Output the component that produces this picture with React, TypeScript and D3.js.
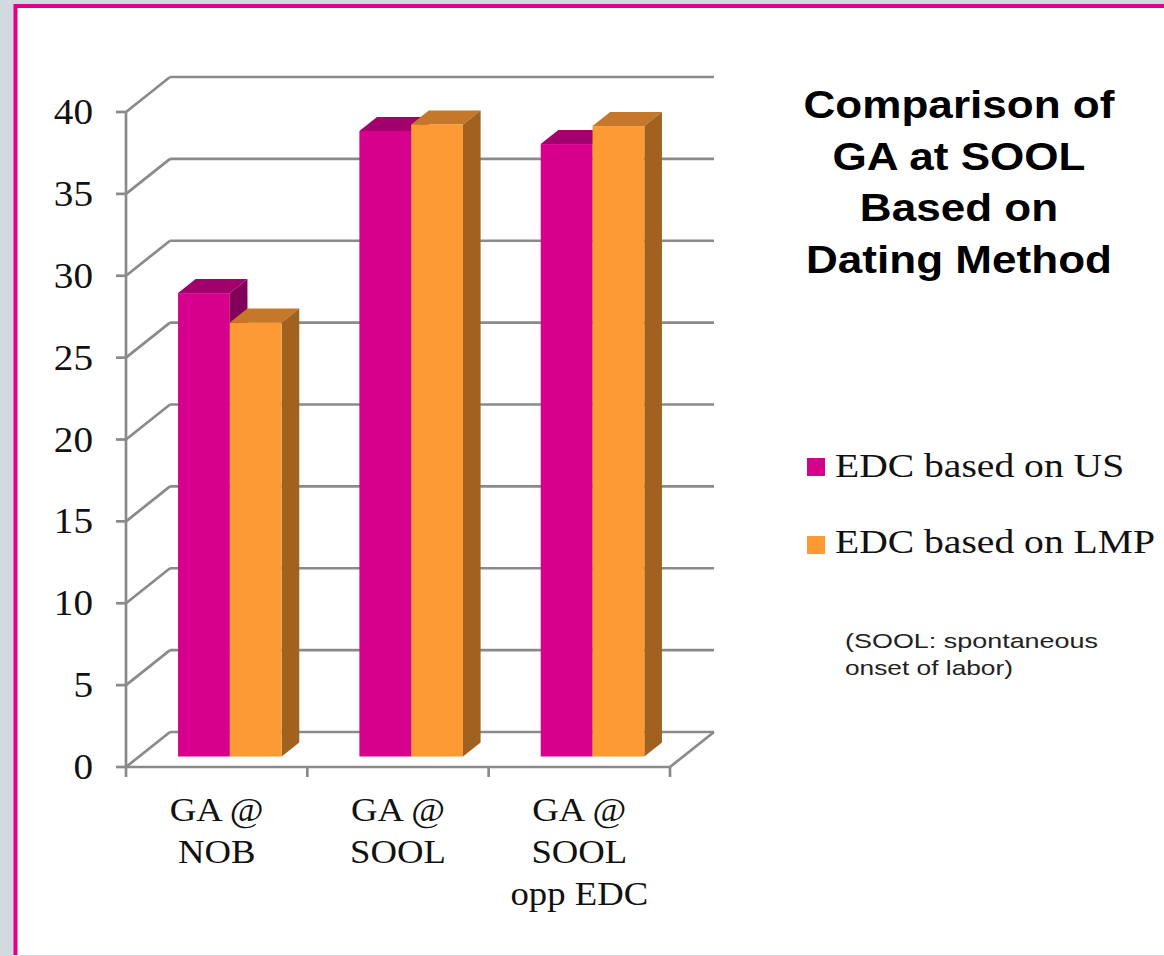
import React from 'react';
import * as d3 from 'd3';

const categories = ['GA @\nNOB', 'GA @\nSOOL', 'GA @\nSOOL\nopp EDC'];
const seriesNames = ['EDC based on US', 'EDC based on LMP'];
const usValues = [28.3, 38.2, 37.4];
const lmpValues = [26.5, 38.6, 38.5];
const yTicks = [0, 5, 10, 15, 20, 25, 30, 35, 40];
const titleLines = ['Comparison of', 'GA at SOOL', 'Based on', 'Dating Method'];
const noteLines = ['(SOOL: spontaneous', 'onset of labor)'];

const W = 1164;
const H = 956;

// 3D floor depth (full depth offset of the back wall)
const DX = 44;
const DY = -35;
const F1 = 0.3; // bar front depth fraction
const F2 = 0.7; // bar back depth fraction

const colors = [
  { front: '#d6008c', top: '#a2006c', side: '#83005a' },
  { front: '#fd9a33', top: '#c5772a', side: '#a1611f' },
];

const SERIF = '"Liberation Serif", "Times New Roman", serif';
const SANS = '"Liberation Sans", Arial, sans-serif';
const GRID = '#8a8a8a';

const App: React.FC = () => {
  const y = d3.scaleLinear().domain([0, 40]).range([767, 112]);
  const x0 = d3.scaleBand<string>().domain(categories).range([126, 670]).padding(0);
  const bw = x0.bandwidth();
  const groupW = (bw * 2) / 3.5;
  const x1 = d3.scaleBand<string>().domain(seriesNames).range([0, groupW]).padding(0);
  const barW = x1.bandwidth();

  const data = [usValues, lmpValues];
  const ddx = (F2 - F1) * DX;
  const ddy = (F2 - F1) * DY;

  const bars: JSX.Element[] = [];
  categories.forEach((c, ci) => {
    seriesNames.forEach((s, si) => {
      const v = data[si][ci];
      const left = (x0(c) as number) + (bw - groupW) / 2 + (x1(s) as number) + F1 * DX;
      const right = left + barW;
      const top = y(v) + F1 * DY;
      const bot = y(0) + F1 * DY;
      const col = colors[si];
      const pts = (p: number[][]) => p.map((q) => q.join(',')).join(' ');
      bars.push(
        <g key={`${ci}-${si}`}>
          <polygon
            points={pts([[left, top], [right, top], [right + ddx, top + ddy], [left + ddx, top + ddy]])}
            fill={col.top}
          />
          <polygon
            points={pts([[right, top], [right + ddx, top + ddy], [right + ddx, bot + ddy], [right, bot]])}
            fill={col.side}
          />
          <rect x={left} y={top} width={barW} height={bot - top} fill={col.front} />
        </g>
      );
    });
  });

  const xL = 126;
  const xR = 670;

  return (
    <svg width={W} height={H} style={{ position: 'absolute', left: 0, top: 0 }}>
      <rect x={0} y={0} width={W} height={H} fill="#d2d9e1" />
      <rect x={16} y={6} width={W - 16} height={H - 7} fill="#ffffff" />
      <line x1={15.5} y1={6} x2={W} y2={6} stroke="#e0008c" strokeWidth={4} />
      <line x1={15.5} y1={4} x2={15.5} y2={H - 1} stroke="#e0008c" strokeWidth={4} />

      {/* back wall grid and left wall diagonals */}
      {yTicks.map((t) => (
        <g key={t}>
          <line x1={xL + DX} y1={y(t) + DY} x2={xR + DX} y2={y(t) + DY} stroke={GRID} strokeWidth={2.7} />
          <line x1={xL} y1={y(t)} x2={xL + DX} y2={y(t) + DY} stroke={GRID} strokeWidth={2.7} />
          <line x1={xL - 10} y1={y(t)} x2={xL} y2={y(t)} stroke={GRID} strokeWidth={2.7} />
          <text
            transform={`translate(93,${y(t) + 12}) scale(1.12,1)`}
            textAnchor="end"
            fontFamily={SERIF}
            fontSize={35}
            fill="#111"
          >
            {t}
          </text>
        </g>
      ))}
      {/* floor */}
      <line x1={xR} y1={y(0)} x2={xR + DX} y2={y(0) + DY} stroke={GRID} strokeWidth={2.7} />
      <line x1={xL} y1={y(0)} x2={xR} y2={y(0)} stroke={GRID} strokeWidth={2.7} />
      <line x1={xL} y1={y(40)} x2={xL} y2={y(0)} stroke={GRID} strokeWidth={2.7} />
      {[...categories.map((c) => x0(c) as number), xR].map((bx, i) => (
        <line key={i} x1={bx} y1={y(0)} x2={bx} y2={y(0) + 10} stroke={GRID} strokeWidth={2.7} />
      ))}

      {bars}

      {/* category labels */}
      {categories.map((c) => {
        const cx = (x0(c) as number) + bw / 2;
        return c.split('\n').map((ln, i) => (
          <text
            key={`${c}-${i}`}
            transform={`translate(${cx},${821 + i * 42}) scale(1.08,1)`}
            textAnchor="middle"
            fontFamily={SERIF}
            fontSize={34}
            fill="#111"
          >
            {ln}
          </text>
        ));
      })}

      {/* title */}
      {titleLines.map((ln, i) => (
        <text
          key={ln}
          transform={`translate(959,${118 + i * 51.7}) scale(1.13,1)`}
          textAnchor="middle"
          fontFamily={SANS}
          fontWeight="bold"
          fontSize={39}
          fill="#000"
        >
          {ln}
        </text>
      ))}

      {/* legend */}
      {seriesNames.map((s, i) => (
        <g key={s}>
          <rect x={807} y={458 + i * 78} width={18} height={18} fill={colors[i].front} />
          <text
            transform={`translate(835,${477 + i * 76}) scale(1.2,1)`}
            fontFamily={SERIF}
            fontSize={33}
            fill="#111"
          >
            {s}
          </text>
        </g>
      ))}

      {/* note */}
      {noteLines.map((ln, i) => (
        <text
          key={ln}
          x={845}
          y={648 + i * 27}
          fontFamily={SANS}
          fontSize={21}
          textLength={i === 0 ? 253 : 168}
          lengthAdjust="spacingAndGlyphs"
          fill="#222"
        >
          {ln}
        </text>
      ))}
    </svg>
  );
};

export default App;
